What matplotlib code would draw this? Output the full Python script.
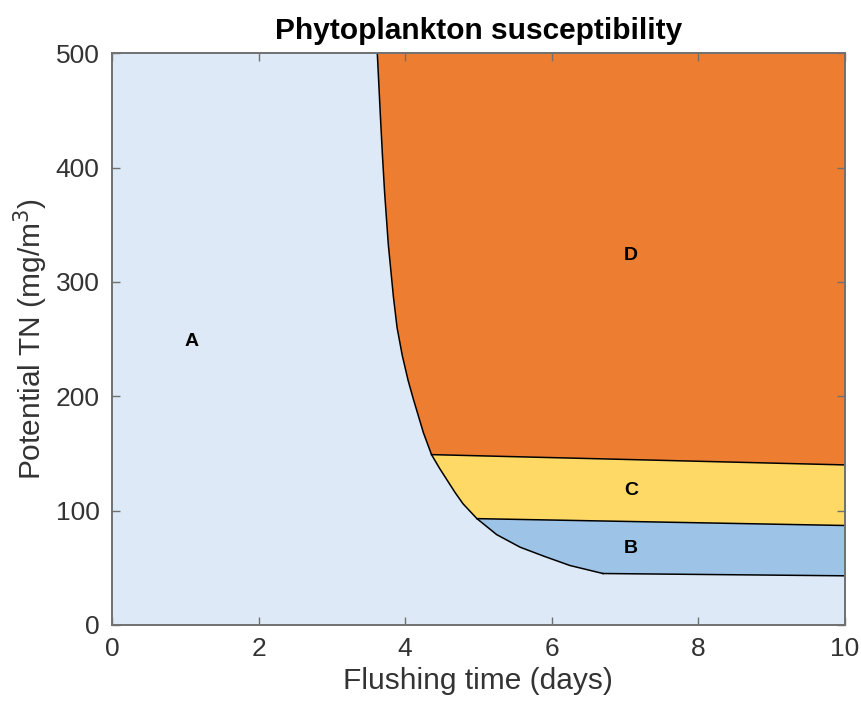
import matplotlib.pyplot as plt

plt.rcParams['font.family'] = ['Liberation Sans', 'DejaVu Sans']

# left boundary of the susceptible zones (flushing time, potential TN)
curve_t = [3.62, 3.66, 3.69, 3.72, 3.77, 3.84, 3.89, 3.96, 4.04, 4.11,
           4.18, 4.25, 4.36, 4.47, 4.57, 4.68, 4.79, 4.98, 5.25, 5.57,
           5.90, 6.25, 6.70]
curve_tn = [500, 448, 411, 378, 333, 287, 260, 236, 214, 198,
            183, 168, 149, 137, 127, 116, 106, 93, 79, 68,
            60, 52, 45]

# values of the zone boundaries at the right edge (t = 10 days)
t_max = 10
tn_max = 500
dc_right = 140   # D / C
cb_right = 87    # C / B
b_right = 43     # B / A

zone_labels = ['A', 'B', 'C', 'D']
label_t = [1.08, 7.08, 7.08, 7.08]
label_tn = [248, 67, 118, 323]

col_a = '#DDE9F6'
col_b = '#9DC3E6'
col_c = '#FFD966'
col_d = '#ED7D31'

i_dc = 12   # curve index where D meets C
i_cb = 17   # curve index where C meets B

fig = plt.figure(figsize=(8.62, 7.11), dpi=100)
ax = fig.add_axes([0.130, 0.121, 0.850, 0.804])
ax.set_facecolor(col_a)

# zone D
xs = curve_t[:i_dc + 1] + [t_max, t_max]
ys = curve_tn[:i_dc + 1] + [dc_right, tn_max]
ax.fill(xs, ys, color=col_d, lw=0)

# zone C
xs = curve_t[i_dc:i_cb + 1] + [t_max, t_max]
ys = curve_tn[i_dc:i_cb + 1] + [cb_right, dc_right]
ax.fill(xs, ys, color=col_c, lw=0)

# zone B
xs = curve_t[i_cb:] + [t_max, t_max]
ys = curve_tn[i_cb:] + [b_right, cb_right]
ax.fill(xs, ys, color=col_b, lw=0)

# boundary lines
lw = 1.1
ax.plot(curve_t, curve_tn, color='k', lw=lw)
ax.plot([curve_t[i_dc], t_max], [curve_tn[i_dc], dc_right], color='k', lw=lw)
ax.plot([curve_t[i_cb], t_max], [curve_tn[i_cb], cb_right], color='k', lw=lw)
ax.plot([curve_t[-1], t_max], [curve_tn[-1], b_right], color='k', lw=lw)

for lab, x, y in zip(zone_labels, label_t, label_tn):
    ax.text(x, y, lab, fontsize=14, fontweight='bold', ha='center', va='center')

ax.set_xlim(0, t_max)
ax.set_ylim(0, tn_max)
ax.set_xticks([0, 2, 4, 6, 8, 10])
ax.set_yticks([0, 100, 200, 300, 400, 500])

ax.tick_params(direction='in', top=True, right=True, labelsize=19, pad=9,
               colors='#707070', labelcolor='#333333', length=6, width=1.0)
for sp in ax.spines.values():
    sp.set_color('#707070')
    sp.set_linewidth(1.4)

ax.set_xlabel('Flushing time (days)', fontsize=21.5, color='#333333', labelpad=4)
ax.set_ylabel('Potential TN (mg/m$^3$)', fontsize=21.5, color='#333333', labelpad=4)
ax.set_title('Phytoplankton susceptibility', fontsize=21.5, fontweight='bold', pad=10)

fig.savefig('out.png', dpi=100)
